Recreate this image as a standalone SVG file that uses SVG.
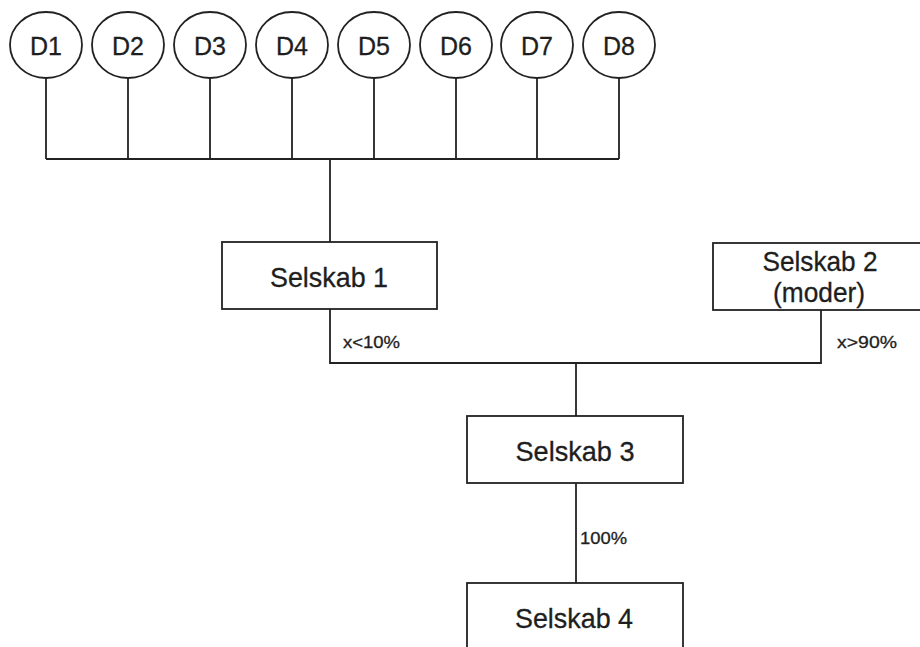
<svg xmlns="http://www.w3.org/2000/svg" width="920" height="647" viewBox="0 0 920 647">
<style>
.s{fill:#fff;stroke:#222;stroke-width:1.8}
.c{fill:none;stroke:#222;stroke-width:1.8}
text{font-family:"Liberation Sans",Arial,sans-serif;fill:#1e1e1e;stroke:#1e1e1e;stroke-width:0.3}
.d{font-size:25px;text-anchor:middle}
.b{font-size:28px;text-anchor:middle}
.l{font-size:17px}
</style>
<rect width="920" height="647" fill="#fff"/>
<g id="connectors" class="c">
<path d="M46 78V159M128 78V159M210 78V159M292 78V159M374 78V159M456 78V159M537 78V159M619 78V159M46 159H619"/>
<path d="M330 159V242"/>
<path d="M330 309V363H821V310"/>
<path d="M576 363V416"/>
<path d="M576 483V583"/>
</g>
<g id="D1"><ellipse class="s" cx="46" cy="45" rx="36" ry="33"/><text class="d" x="46" y="55">D1</text></g>
<g id="D2"><ellipse class="s" cx="128" cy="45" rx="36" ry="33"/><text class="d" x="128" y="55">D2</text></g>
<g id="D3"><ellipse class="s" cx="210" cy="45" rx="36" ry="33"/><text class="d" x="210" y="55">D3</text></g>
<g id="D4"><ellipse class="s" cx="292" cy="45" rx="36" ry="33"/><text class="d" x="292" y="55">D4</text></g>
<g id="D5"><ellipse class="s" cx="374" cy="45" rx="36" ry="33"/><text class="d" x="374" y="55">D5</text></g>
<g id="D6"><ellipse class="s" cx="456" cy="45" rx="36" ry="33"/><text class="d" x="456" y="55">D6</text></g>
<g id="D7"><ellipse class="s" cx="537" cy="45" rx="36" ry="33"/><text class="d" x="537" y="55">D7</text></g>
<g id="D8"><ellipse class="s" cx="619" cy="45" rx="36" ry="33"/><text class="d" x="619" y="55">D8</text></g>
<g id="selskab1"><rect class="s" x="222" y="242" width="215" height="67"/><text class="b" x="329" y="287" textLength="118" lengthAdjust="spacingAndGlyphs">Selskab 1</text></g>
<g id="selskab2"><rect class="s" x="713" y="243" width="210" height="67"/><text class="b" x="820" y="271" textLength="115" lengthAdjust="spacingAndGlyphs">Selskab 2</text><text class="b" x="819" y="302" textLength="92" lengthAdjust="spacingAndGlyphs">(moder)</text></g>
<g id="selskab3"><rect class="s" x="467" y="416" width="216" height="67"/><text class="b" x="575" y="461" textLength="119" lengthAdjust="spacingAndGlyphs">Selskab 3</text></g>
<g id="selskab4"><rect class="s" x="467" y="583" width="216" height="80"/><text class="b" x="574" y="628" textLength="118" lengthAdjust="spacingAndGlyphs">Selskab 4</text></g>
<g id="labels">
<text class="l" x="343" y="348" textLength="57" lengthAdjust="spacingAndGlyphs">x&lt;10%</text>
<text class="l" x="837" y="348" textLength="60" lengthAdjust="spacingAndGlyphs">x&gt;90%</text>
<text class="l" x="580" y="544" textLength="47" lengthAdjust="spacingAndGlyphs">100%</text>
</g>
</svg>
